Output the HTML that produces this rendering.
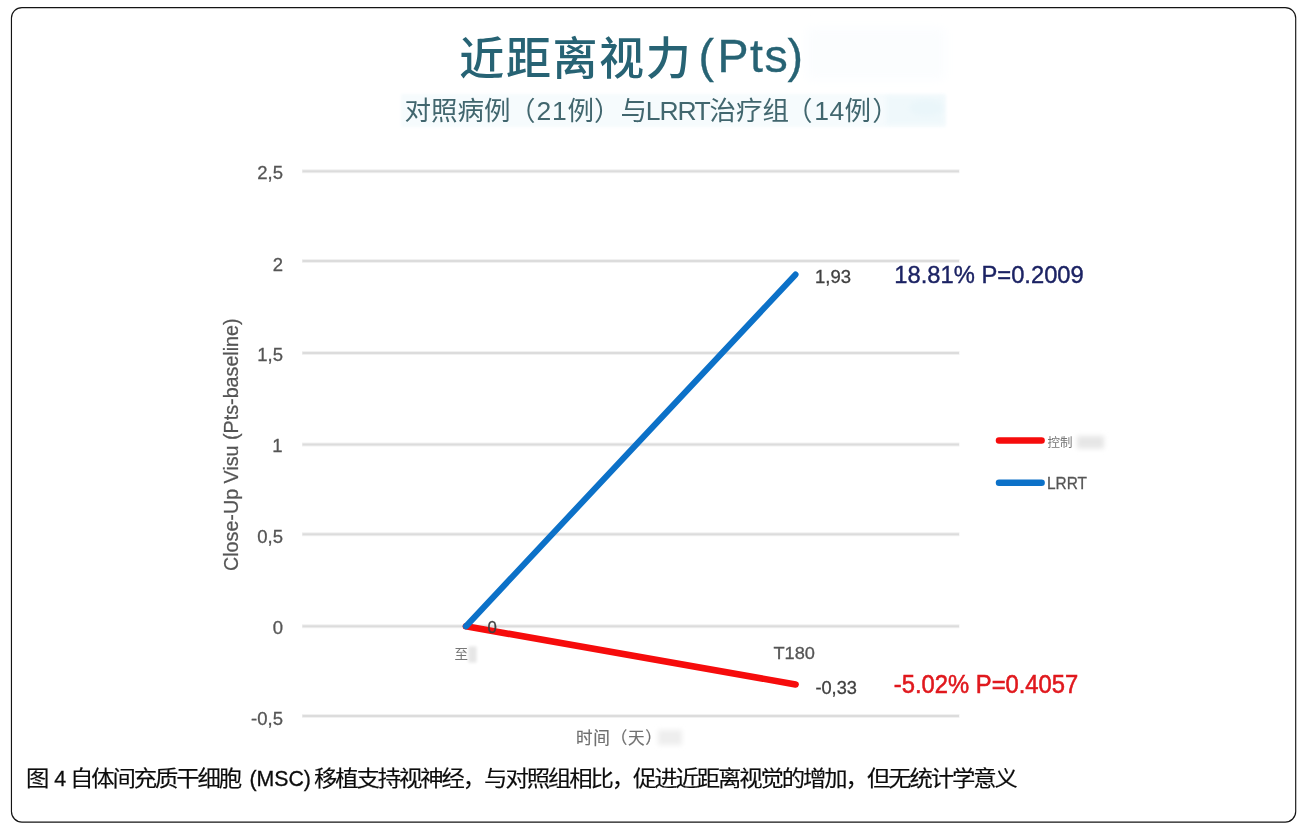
<!DOCTYPE html>
<html lang="zh-CN">
<head>
<meta charset="utf-8">
<title>近距离视力 (Pts)</title>
<style>
  html, body { margin: 0; padding: 0; background: #ffffff; }
  body { width: 1308px; height: 832px; overflow: hidden; position: relative;
         font-family: "Liberation Sans", "Noto Sans CJK SC", sans-serif; }
  svg.chart { position: absolute; left: 0; top: 0; }
  svg.chart text { font-family: "Liberation Sans", "Noto Sans CJK SC", sans-serif; }
  .caption { position: absolute; left: 26px; top: 764.4px; margin: 0; white-space: pre;
             font-size: 21.3px; line-height: 30px; color: #0c0c0c; -webkit-text-stroke: 0.3px #0c0c0c; }
  .caption .c { display: inline-block; letter-spacing: -1.93px; transform: scaleX(1.098);
                transform-origin: 0 50%; -webkit-text-stroke: 0.15px #0c0c0c; }
  .caption .c1 { margin-right: 2.93px; }
  .caption .c2 { margin-left: -1.79px; margin-right: 18.34px; }
  .caption .c3 { margin-left: -2.35px; }
</style>
</head>
<body>

<svg class="chart" width="1308" height="832" viewBox="0 0 1308 832">
  <defs>
    <filter id="blur2" x="-40%" y="-60%" width="180%" height="220%"><feGaussianBlur stdDeviation="1.6"/></filter>
    <filter id="blur3" x="-40%" y="-60%" width="180%" height="220%"><feGaussianBlur stdDeviation="2.5"/></filter>
    <filter id="blur6" x="-30%" y="-60%" width="160%" height="220%"><feGaussianBlur stdDeviation="6"/></filter>
  </defs>

  <!-- outer rounded frame -->
  <rect x="11.45" y="7.6" width="1284.25" height="814.5" rx="10.5" ry="10.5" fill="none" stroke="#141414" stroke-width="1.15"/>

  <g>
  <!-- faint tinted patches behind headings -->
  <rect x="806" y="28" width="140" height="52" fill="#fbfdfe" filter="url(#blur6)"/>
  <rect x="401" y="94" width="545" height="33" fill="#f6fbfd" filter="url(#blur2)"/>
  <rect x="886" y="96" width="58" height="28" fill="#eff8fb" filter="url(#blur3)"/>
  <ellipse cx="926" cy="108" rx="17" ry="8" fill="#eaf6fa" filter="url(#blur3)"/>

  <!-- headings -->
  <text x="459.3" y="75.2" font-size="45" font-weight="500" letter-spacing="1.6" fill="#276374">近距离视力<tspan x="698.6 717.6 749.9 764.6 787.4" y="72.4" font-size="46.5" letter-spacing="0" stroke="#276374" stroke-width="0.35">(Pts)</tspan></text>
  <text x="404.6 431.1 457.6 484.1 509 536.4 551.9 567.6 594.1 620.6 645.8 659.6 677.4 694.4 709.6 736.1 762.6 786 814.2 829.6 844.6 872.2" y="119.6" font-size="26.5" fill="#41666e">对照病例（21例）与LRRT治疗组（14例）</text>

  <!-- gridlines -->
  <g stroke="#f1f1f1" stroke-width="4">
    <line x1="302" x2="959.5" y1="171.3" y2="171.3"/>
    <line x1="302" x2="959.5" y1="261" y2="261"/>
    <line x1="302" x2="959.5" y1="352.9" y2="352.9"/>
    <line x1="302" x2="959.5" y1="444.6" y2="444.6"/>
    <line x1="302" x2="959.5" y1="534.3" y2="534.3"/>
    <line x1="302" x2="959.5" y1="626.2" y2="626.2"/>
    <line x1="302" x2="959.5" y1="716" y2="716"/>
  </g>
  <g stroke="#dcdcdc" stroke-width="2">
    <line x1="302.5" x2="959" y1="171.3" y2="171.3"/>
    <line x1="302.5" x2="959" y1="261" y2="261"/>
    <line x1="302.5" x2="959" y1="352.9" y2="352.9"/>
    <line x1="302.5" x2="959" y1="444.6" y2="444.6"/>
    <line x1="302.5" x2="959" y1="534.3" y2="534.3"/>
    <line x1="302.5" x2="959" y1="626.2" y2="626.2"/>
    <line x1="302.5" x2="959" y1="716" y2="716"/>
  </g>

  <!-- y tick labels -->
  <g font-size="18.5" fill="#555" stroke="#555" stroke-width="0.3" text-anchor="end">
    <text x="283" y="179.2">2,5</text>
    <text x="283" y="270.7">2</text>
    <text x="283" y="360.9">1,5</text>
    <text x="282.6" y="451.7">1</text>
    <text x="283" y="542.9">0,5</text>
    <text x="283" y="633.9">0</text>
    <text x="283" y="724.7">-0,5</text>
  </g>

  <!-- y axis title -->
  <text transform="translate(238.2 571) rotate(-90)" font-size="20" fill="#555" stroke="#555" stroke-width="0.25" textLength="252.6" lengthAdjust="spacingAndGlyphs">Close-Up Visu (Pts-baseline)</text>

  <!-- series -->
  <line x1="465.9" y1="626.3" x2="795.6" y2="684.4" stroke="#f60c0c" stroke-width="6.6" stroke-linecap="round"/>
  <line x1="465.9" y1="626.3" x2="795.5" y2="274.6" stroke="#0c71c8" stroke-width="6.1" stroke-linecap="round"/>

  <!-- data labels -->
  <g font-size="17.6" fill="#404040" stroke="#404040" stroke-width="0.3">
    <text x="487.6" y="632.8" font-size="16.8">0</text>
    <text x="815" y="282.8" textLength="36" lengthAdjust="spacingAndGlyphs">1,93</text>
    <text x="815.4" y="693.8" textLength="41.5" lengthAdjust="spacingAndGlyphs">-0,33</text>
  </g>

  <!-- category labels -->
  <text x="773.4" y="658.8" font-size="17.2" fill="#555" stroke="#555" stroke-width="0.3" textLength="41.5" lengthAdjust="spacingAndGlyphs">T180</text>
  <rect x="468.5" y="646.5" width="8" height="16" fill="#e6e6e6" filter="url(#blur2)"/>
  <text x="454.5" y="659.2" font-size="13.5" fill="#777">至</text>

  <!-- x axis title -->
  <rect x="658" y="730" width="24" height="15" fill="#eeeeee" filter="url(#blur3)"/>
  <text x="576" y="743.6" font-size="16.6" letter-spacing="0.75" fill="#707070" stroke="#707070" stroke-width="0.2">时间（天）</text>

  <!-- annotations -->
  <text x="894.3" y="282.8" font-size="24.4" fill="#1b2263" stroke="#1b2263" stroke-width="0.4" textLength="189.5" lengthAdjust="spacingAndGlyphs">18.81% P=0.2009</text>
  <text x="893.8" y="693.2" font-size="25" fill="#e0181d" stroke="#e0181d" stroke-width="0.55" textLength="184.5" lengthAdjust="spacingAndGlyphs">-5.02% P=0.4057</text>

  <!-- legend -->
  <line x1="999" x2="1041.6" y1="440.4" y2="440.4" stroke="#f60c0c" stroke-width="6.5" stroke-linecap="round"/>
  <rect x="1077" y="436" width="27" height="12.5" fill="#e6e6e6" filter="url(#blur3)"/>
  <text x="1047.5" y="447" font-size="12.5" fill="#777">控制</text>
  <line x1="999" x2="1041.6" y1="482.7" y2="482.7" stroke="#0c71c8" stroke-width="6.5" stroke-linecap="round"/>
  <text x="1047" y="489.4" font-size="17.3" fill="#555" stroke="#555" stroke-width="0.3" textLength="40" lengthAdjust="spacingAndGlyphs">LRRT</text>
  </g>
</svg>

<p class="caption"><span class="c c1">图</span> 4 <span class="c c2">自体间充质干细胞</span> (MSC) <span class="c c3">移植支持视神经，与对照组相比，促进近距离视觉的增加，但无统计学意义</span></p>
</body>
</html>
